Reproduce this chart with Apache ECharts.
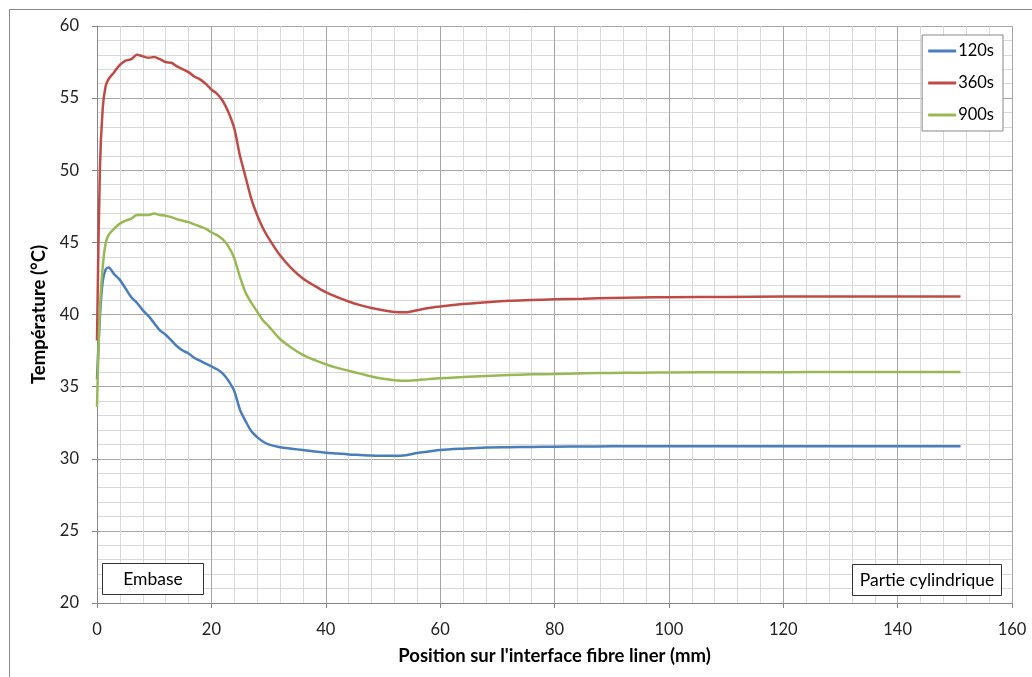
<!DOCTYPE html>
<html>
<head>
<meta charset="utf-8">
<script src="https://cdn.jsdelivr.net/npm/echarts@6/dist/echarts.min.js"></script>
<style>html,body{margin:0;padding:0;background:#fff;}#c{width:1032px;height:677px;}</style>
</head>
<body>
<div id="c"></div>
<script>
const positions = [0, 0.5, 1, 1.5, 2, 3, 4, 5, 6, 7, 8, 9, 10, 11, 12, 13, 14, 15, 16, 17, 18, 19, 20, 21, 22, 23, 24, 25, 26, 27, 28, 29, 30, 32, 34, 36, 38, 40, 42, 44, 46, 48, 50, 52, 54, 56, 58, 60, 64, 68, 72, 76, 80, 85, 90, 95, 100, 110, 120, 130, 140, 151];
const t120 = [35.5, 39.8, 42.3, 43.1, 43.25, 42.8, 42.4, 41.8, 41.2, 40.8, 40.3, 39.9, 39.4, 38.9, 38.6, 38.2, 37.8, 37.5, 37.3, 37.0, 36.8, 36.6, 36.4, 36.2, 35.9, 35.4, 34.7, 33.4, 32.6, 31.9, 31.5, 31.2, 31.0, 30.8, 30.7, 30.6, 30.5, 30.42, 30.36, 30.3, 30.26, 30.22, 30.2, 30.2, 30.25, 30.4, 30.5, 30.6, 30.7, 30.78, 30.8, 30.82, 30.84, 30.85, 30.86, 30.86, 30.87, 30.87, 30.87, 30.87, 30.87, 30.87];
const t360 = [38.2, 50.0, 54.3, 55.8, 56.3, 56.8, 57.3, 57.6, 57.7, 58.0, 57.9, 57.8, 57.85, 57.7, 57.5, 57.45, 57.2, 57.0, 56.8, 56.5, 56.3, 56.0, 55.6, 55.3, 54.8, 54.0, 52.9, 51.0, 49.5, 48.0, 46.9, 46.0, 45.3, 44.1, 43.2, 42.5, 42.0, 41.55, 41.2, 40.9, 40.65, 40.45, 40.3, 40.18, 40.15, 40.3, 40.45, 40.55, 40.73, 40.85, 40.95, 41.0, 41.05, 41.1, 41.15, 41.18, 41.2, 41.22, 41.24, 41.25, 41.25, 41.25];
const t900 = [33.6, 40.3, 43.3, 44.9, 45.5, 45.95, 46.3, 46.5, 46.65, 46.9, 46.9, 46.9, 47.0, 46.9, 46.85, 46.75, 46.6, 46.5, 46.4, 46.25, 46.1, 45.95, 45.7, 45.5, 45.2, 44.7, 43.9, 42.6, 41.5, 40.8, 40.2, 39.6, 39.2, 38.3, 37.7, 37.2, 36.85, 36.55, 36.3, 36.1, 35.9, 35.7, 35.55, 35.45, 35.4, 35.45, 35.52, 35.58, 35.66, 35.74, 35.8, 35.85, 35.88, 35.92, 35.95, 35.97, 35.98, 36.0, 36.0, 36.02, 36.02, 36.02];
const seriesNames = ['120s', '360s', '900s'];
const seriesColors = ['#4a7ebb', '#be4b48', '#98b954'];
const xTitle = "Position sur l'interface fibre liner (mm)";
const yTitle = 'Température (°C)';
const boxLabels = ['Embase', 'Partie cylindrique'];

const FONT = 'Lato, "Liberation Sans", sans-serif';
const chart = echarts.init(document.getElementById('c'), null, {renderer: 'canvas'});
const allData = [t120, t360, t900];
const pairs = d => positions.map((p, i) => [p, d[i]]);

chart.setOption({
  animation: false,
  backgroundColor: '#fff',
  textStyle: {fontFamily: FONT},
  grid: {left: 97, right: 20, top: 26, bottom: 74},
  legend: {
    orient: 'vertical', right: 29, top: 35,
    data: seriesNames, icon: 'rect',
    borderColor: '#888', borderWidth: 1, backgroundColor: '#fff',
    padding: [7, 9, 7, 6], itemGap: 14, itemWidth: 28, itemHeight: 3,
    textStyle: {fontFamily: FONT, fontSize: 16.5, color: '#000', padding: [0,0,0,-3], lineHeight: 18}
  },
  xAxis: {
    type: 'value', min: 0, max: 160, interval: 20,
    name: xTitle, nameLocation: 'middle', nameGap: 44,
    nameTextStyle: {fontFamily: FONT, fontWeight: 'bold', fontSize: 18.5, color: '#000'},
    axisLine: {show: true, lineStyle: {color: '#868686', width: 1}},
    axisTick: {show: true, length: 5, lineStyle: {color: '#868686'}},
    axisLabel: {fontFamily: FONT, fontSize: 16.5, color: '#222', margin: 18},
    splitLine: {show: true, lineStyle: {color: '#a6a6a6', width: 1}},
    minorTick: {show: false, splitNumber: 5},
    minorSplitLine: {show: true, lineStyle: {color: '#d9d9d9', width: 1}}
  },
  yAxis: {
    type: 'value', min: 20, max: 60, interval: 5,
    name: yTitle, nameLocation: 'middle', nameGap: 46, nameRotate: 90,
    nameTextStyle: {fontFamily: FONT, fontWeight: 'bold', fontSize: 18.5, color: '#000'},
    axisLine: {show: true, lineStyle: {color: '#868686', width: 1}},
    axisTick: {show: true, length: 5, lineStyle: {color: '#868686'}},
    axisLabel: {fontFamily: FONT, fontSize: 16.5, color: '#222', margin: 18},
    splitLine: {show: true, lineStyle: {color: '#a6a6a6', width: 1}},
    minorTick: {show: false, splitNumber: 5},
    minorSplitLine: {show: true, lineStyle: {color: '#d9d9d9', width: 1}}
  },
  series: seriesNames.map((n, k) => ({
    name: n, type: 'line', data: pairs(allData[k]),
    symbol: 'none', smooth: 0.3,
    lineStyle: {color: seriesColors[k], width: 2.5},
    itemStyle: {color: seriesColors[k]}
  })),
  graphic: [
    {type: 'rect', shape: {x: 9.5, y: 9.5, width: 1040, height: 700}, style: {fill: 'none', stroke: '#888', lineWidth: 1}, silent: true},
    {type: 'rect', shape: {x: 102.5, y: 563.5, width: 101, height: 31}, style: {fill: '#fff', stroke: '#333', lineWidth: 1}, z: 10},
    {type: 'text', x: 153, y: 579, style: {text: boxLabels[0], font: '17.5px ' + FONT, fill: '#000', textAlign: 'center', textVerticalAlign: 'middle'}, z: 11},
    {type: 'rect', shape: {x: 852.5, y: 564.5, width: 149, height: 31}, style: {fill: '#fff', stroke: '#333', lineWidth: 1}, z: 10},
    {type: 'text', x: 927, y: 580, style: {text: boxLabels[1], font: '17.5px ' + FONT, fill: '#000', textAlign: 'center', textVerticalAlign: 'middle'}, z: 11}
  ]
});
</script>
</body>
</html>
